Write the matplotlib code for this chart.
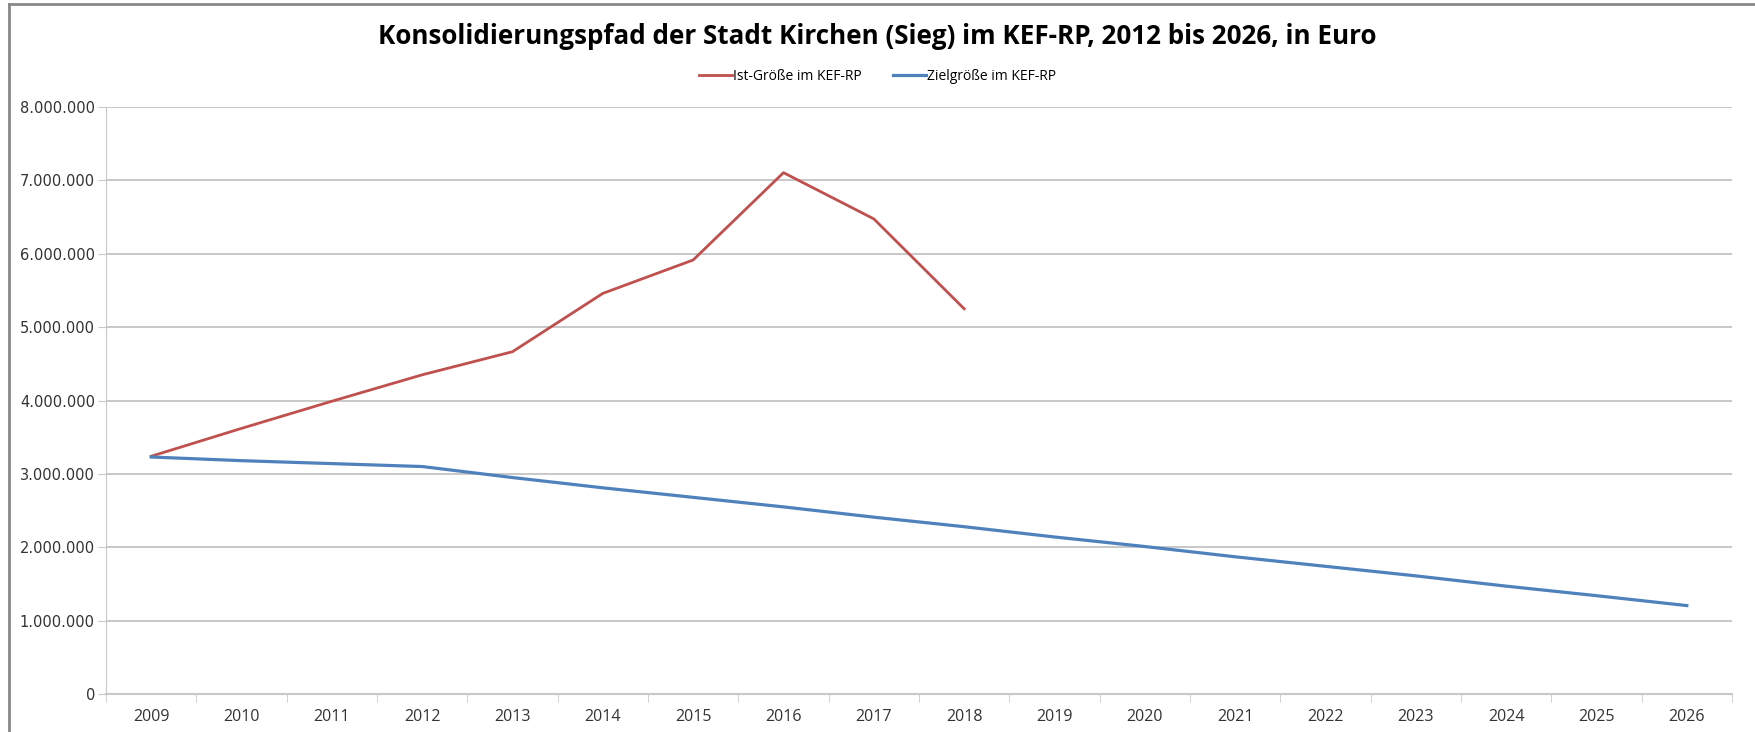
import matplotlib.pyplot as plt
from matplotlib.ticker import FuncFormatter

years = list(range(2009, 2027))
ist_years = list(range(2009, 2019))
ist = [3240000, 3620000, 3990000, 4350000, 4665000, 5460000, 5915000, 7105000, 6475000, 5250000]
ziel = [3230000, 3180000, 3140000, 3100000, 2950000, 2810000, 2680000, 2550000, 2410000,
        2280000, 2140000, 2010000, 1870000, 1740000, 1610000, 1470000, 1340000, 1205000]

plt.rcParams['font.family'] = ['Open Sans', 'DejaVu Sans']

fig = plt.figure(figsize=(17.55, 7.32), dpi=100)
ax = fig.add_axes([106 / 1755, 1 - 694 / 732, (1732 - 106) / 1755, (694 - 107) / 732])

xi = list(range(len(years)))
ax.plot(xi[:len(ist)], ist, color="#c0504d", lw=2.0, label="Ist-Größe im KEF-RP")
ax.plot(xi, ziel, color="#4f81bd", lw=2.3, label="Zielgröße im KEF-RP")

ax.set_xlim(-0.5, len(years) - 0.5)
ax.set_ylim(0, 8000000)
ax.set_yticks(range(0, 8000001, 1000000))
ax.yaxis.set_major_formatter(FuncFormatter(lambda v, p: f"{int(v):,}".replace(",", ".")))
ax.set_xticks(xi)
ax.set_xticklabels([str(y) for y in years])
ax.set_xticks([i + 0.5 for i in range(-1, len(years))], minor=True)
ax.tick_params(axis="x", which="major", length=0, pad=11, labelsize=11.5, colors="#333333")
ax.tick_params(axis="x", which="minor", length=6, color="#c8c8c8", direction="out")
ax.tick_params(axis="y", length=6, color="#c8c8c8", labelsize=10.5, labelcolor="#333333", pad=2,
               labelfontfamily="DejaVu Sans")

ax.grid(axis="y", color="#bfbfbf", lw=1.2)
ax.set_axisbelow(True)
for s in ["top", "right"]:
    ax.spines[s].set_visible(False)
ax.spines["left"].set_color("#c8c8c8")
ax.spines["bottom"].set_color("#c8c8c8")
ax.spines["bottom"].set_linewidth(1.5)

fig.text(0.5, 1 - 36 / 732, "Konsolidierungspfad der Stadt Kirchen (Sieg) im KEF-RP, 2012 bis 2026, in Euro",
         ha="center", va="center", fontsize=18.7, fontweight="bold")
fig.legend(loc="center", bbox_to_anchor=(0.5, 1 - 76 / 732), ncol=2, frameon=False,
           fontsize=10, handlelength=2.4, columnspacing=2.2, handletextpad=0.1)

# frame of the screenshot
fig.add_artist(plt.Line2D([9 / 1755, 9 / 1755], [0, 1 - 4 / 732], transform=fig.transFigure,
                          color="#888888", lw=2))
fig.add_artist(plt.Line2D([9 / 1755, 1], [1 - 4 / 732, 1 - 4 / 732], transform=fig.transFigure,
                          color="#888888", lw=2))

fig.savefig("out.png", dpi=100)
